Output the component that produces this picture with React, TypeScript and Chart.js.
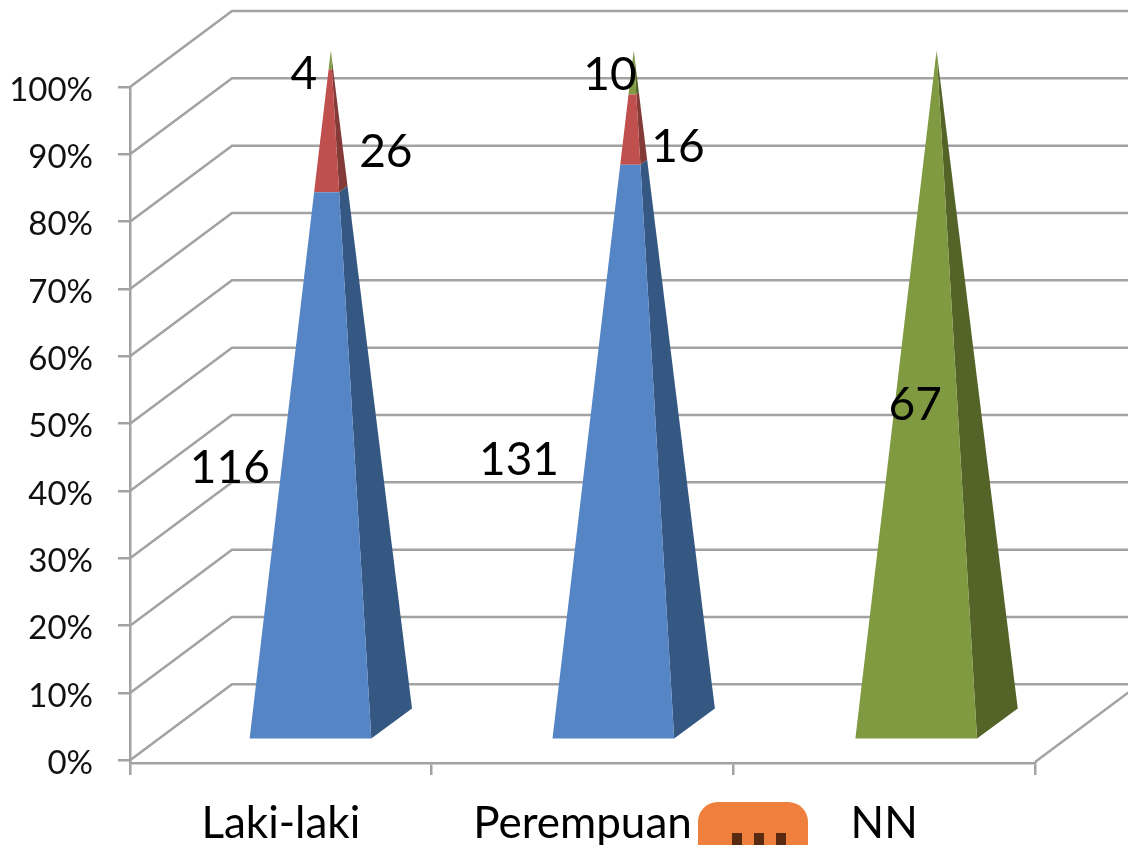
import React, { useEffect, useRef } from "react";
import { Chart, registerables } from "chart.js";

Chart.register(...registerables);

const categories = ["Laki-laki", "Perempuan", "NN"];
const blueValues = [116, 131, 0];
const redValues = [26, 16, 0];
const greenValues = [4, 10, 67];
const yTicks = [0, 10, 20, 30, 40, 50, 60, 70, 80, 90, 100];

const rawSeries = [blueValues, redValues, greenValues];
const totals = categories.map((_, i) => rawSeries.reduce((s, r) => s + r[i], 0));
const toPercent = (vals: number[]) => vals.map((v, i) => (v / totals[i]) * 100);

const GRID = "#a2a2a2";
const FRONT = ["#5585c5", "#c0504d", "#7f9a41"];
const SIDE = ["#355882", "#843b38", "#546429"];
const DEPTH_X = 102;
const DEPTH_Y = 76;
const NEAR_X = 0.29;
const FAR_X = 0.69;
const MID_X = 0.49;
const NEAR_Y = 0.27;
const FAR_Y = 0.665;
const MID_Y = 0.48;
const PERSPECTIVE = 0.004;

// manual label nudges, [series][category], relative to the segment centre
const LABEL_NUDGE: [number, number][][] = [
  [[-51, -24], [-63.5, -18.5], [0, 0]],
  [[105, -13], [95.5, -17], [0, 0]],
  [[23, -22.5], [27.5, -33], [31, -18]],
];

const lerp = (a: [number, number], b: [number, number], t: number): [number, number] => [
  a[0] + (b[0] - a[0]) * t,
  a[1] + (b[1] - a[1]) * t,
];

function quad(ctx: CanvasRenderingContext2D, pts: [number, number][], color: string) {
  ctx.beginPath();
  pts.forEach((p, i) => (i ? ctx.lineTo(p[0], p[1]) : ctx.moveTo(p[0], p[1])));
  ctx.closePath();
  ctx.fillStyle = color;
  ctx.fill();
}

const pyramidPlugin = {
  id: "pyramid3d",
  beforeDatasetsDraw(chart: any) {
    const { ctx, scales } = chart;
    const y = scales.y;
    const x = scales.x;
    ctx.save();
    ctx.strokeStyle = GRID;
    ctx.lineWidth = 2.5;
    yTicks.forEach((v) => {
      const py = y.getPixelForValue(v);
      ctx.beginPath();
      ctx.moveTo(x.left, py);
      ctx.lineTo(x.left + DEPTH_X, py - DEPTH_Y);
      ctx.lineTo(chart.width + 5, py - DEPTH_Y);
      ctx.stroke();
    });
    ctx.beginPath();
    ctx.moveTo(x.right, y.bottom - 1);
    ctx.lineTo(x.right + DEPTH_X, y.bottom - 1 - DEPTH_Y);
    ctx.stroke();
    ctx.restore();
  },
  beforeDatasetDraw(chart: any, args: any) {
    const { ctx, scales } = chart;
    const y = scales.y;
    const y0 = y.getPixelForValue(0);
    const y100 = y.getPixelForValue(100);
    const firstX = scales.x.getPixelForValue(0);
    const frac = (p: number) => (y0 - p) / (y0 - y100);
    ctx.save();
    args.meta.data.forEach((el: any) => {
      const t0 = frac(el.base);
      const t1 = frac(el.y);
      if (t1 - t0 <= 0) return;
      const shift = (el.x - firstX) * PERSPECTIVE;
      const l = el.x + shift - el.width / 2;
      const r = el.x + shift + el.width / 2;
      const apex: [number, number] = [el.x + shift + MID_X * DEPTH_X, y100 - MID_Y * DEPTH_Y];
      const fl: [number, number] = [l + NEAR_X * DEPTH_X, y0 - NEAR_Y * DEPTH_Y];
      const fr: [number, number] = [r + NEAR_X * DEPTH_X, y0 - NEAR_Y * DEPTH_Y];
      const br: [number, number] = [r + FAR_X * DEPTH_X, y0 - FAR_Y * DEPTH_Y];
      quad(ctx, [lerp(fr, apex, t0), lerp(br, apex, t0), lerp(br, apex, t1), lerp(fr, apex, t1)], SIDE[args.index]);
      quad(ctx, [lerp(fl, apex, t0), lerp(fr, apex, t0), lerp(fr, apex, t1), lerp(fl, apex, t1)], FRONT[args.index]);
    });
    ctx.restore();
    return false;
  },
  afterDraw(chart: any) {
    const { ctx } = chart;
    ctx.save();
    // raw value labels
    ctx.fillStyle = "#000";
    ctx.font = "46px Lato";
    ctx.textAlign = "center";
    ctx.textBaseline = "middle";
    rawSeries.forEach((vals, s) => {
      const els = chart.getDatasetMeta(s).data;
      vals.forEach((v, i) => {
        if (!v) return;
        const el = els[i];
        const [dx, dy] = LABEL_NUDGE[s][i];
        ctx.fillText(String(v), el.x + dx, (el.y + el.base) / 2 + dy);
      });
    });
    // orange sticker overlapping the axis labels
    ctx.fillStyle = "#ee7f3c";
    ctx.beginPath();
    ctx.roundRect(698, 802, 110, 70, 20);
    ctx.fill();
    ctx.fillStyle = "#5a2a10";
    [737, 759, 781].forEach((d) => ctx.fillRect(d - 5, 833, 10, 14));
    ctx.restore();
  },
};

export default function App() {
  const ref = useRef<HTMLCanvasElement>(null);
  useEffect(() => {
    const chart = new Chart(ref.current!, {
      type: "bar",
      data: {
        labels: categories,
        datasets: rawSeries.map((vals, i) => ({
          label: ["Blue", "Red", "Green"][i],
          data: toPercent(vals),
          backgroundColor: FRONT[i],
          categoryPercentage: 1,
          barPercentage: 0.404,
        })),
      },
      options: {
        responsive: false,
        animation: false,
        layout: { padding: { top: 87, right: 93, left: 0, bottom: 0 } },
        plugins: { legend: { display: false }, tooltip: { enabled: false }, title: { display: false } },
        scales: {
          x: {
            stacked: true,
            afterFit: (s: any) => {
              s.height = 82;
            },
            grid: { offset: true, drawOnChartArea: false, color: GRID, lineWidth: 2.5, tickLength: 12 },
            border: { display: true, color: GRID, width: 2.5 },
            ticks: { color: "#000", font: { family: "Lato", size: 44 }, padding: 22, maxRotation: 0, autoSkip: false },
          },
          y: {
            stacked: true,
            min: -0.4,
            max: 100,
            afterFit: (s: any) => {
              s.width = 130;
            },
            afterBuildTicks: (s: any) => {
              s.ticks = yTicks.map((value) => ({ value }));
            },
            grid: { drawOnChartArea: false, color: GRID, lineWidth: 2.5, tickLength: 12 },
            border: { display: true, color: GRID, width: 2.5 },
            ticks: { color: "#111", font: { family: "Lato", size: 33 }, padding: 25, labelOffset: 3, callback: (v: any) => `${v}%` },
          },
        },
      },
      plugins: [pyramidPlugin],
    } as any);
    return () => chart.destroy();
  }, []);
  return (
    <div style={{ position: "absolute", left: 0, top: 0, width: 1128, height: 845, overflow: "hidden", background: "#fff" }}>
      <canvas ref={ref} width={1128} height={845} style={{ display: "block", filter: "blur(0.5px)" }} />
    </div>
  );
}
